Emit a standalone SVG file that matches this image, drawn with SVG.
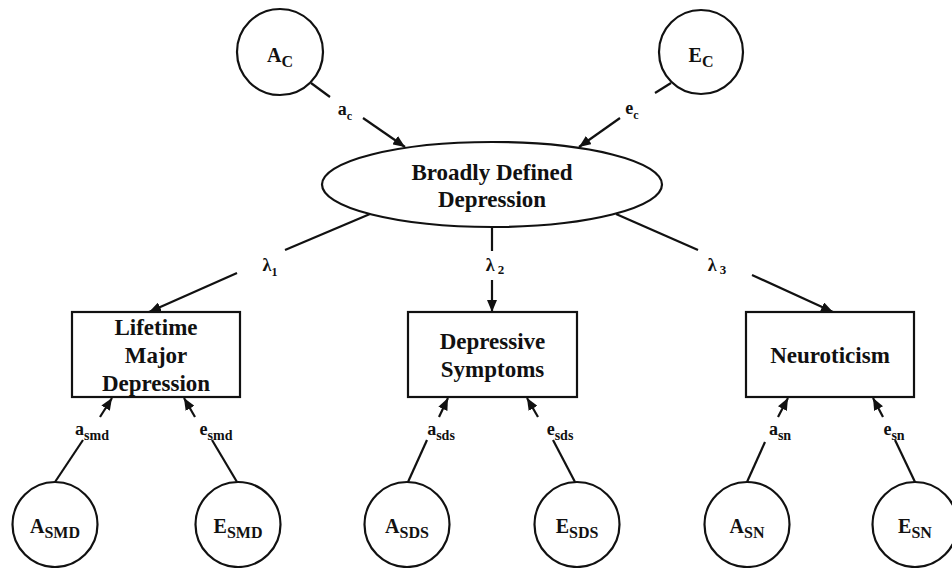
<svg xmlns="http://www.w3.org/2000/svg" width="952" height="568" viewBox="0 0 952 568">
<style>
  .shape { fill: #fff; stroke: #111; stroke-width: 2.2; }
  .line { stroke: #111; stroke-width: 2.2; fill: none; }
  .arr { stroke: #111; stroke-width: 2.2; fill: none; marker-end: url(#ah); }
  text { font-family: "Liberation Serif", "Times New Roman", serif; font-weight: bold; fill: #111; }
  .node { font-size: 23px; text-anchor: middle; }
  .lat { font-size: 20px; text-anchor: middle; }
  .lab { font-size: 18px; text-anchor: middle; }
</style>
<defs>
  <marker id="ah" markerWidth="12" markerHeight="10" refX="12" refY="5" orient="auto" markerUnits="userSpaceOnUse">
    <path d="M0,0 L12,5 L0,10 z" fill="#111"/>
  </marker>
</defs>
<g id="connectors">
  <line class="line" x1="311" y1="83" x2="330" y2="97"/>
  <line class="arr" x1="363" y1="118" x2="405" y2="147"/>
  <line class="line" x1="671" y1="83" x2="655" y2="93"/>
  <line class="arr" x1="620" y1="118" x2="579" y2="147"/>
  <line class="line" x1="370" y1="214" x2="285" y2="250"/>
  <line class="arr" x1="237" y1="273" x2="149" y2="312"/>
  <line class="line" x1="492" y1="227" x2="492" y2="251"/>
  <line class="arr" x1="492" y1="280" x2="492" y2="312"/>
  <line class="line" x1="616" y1="214" x2="698" y2="250"/>
  <line class="arr" x1="752" y1="275" x2="833" y2="312"/>
  <line class="line" x1="55" y1="482" x2="83" y2="440"/>
  <line class="arr" x1="100" y1="417" x2="112" y2="398"/>
  <line class="line" x1="237" y1="482" x2="212" y2="440"/>
  <line class="arr" x1="195" y1="417" x2="184" y2="398"/>
  <line class="line" x1="408" y1="482" x2="427" y2="440"/>
  <line class="arr" x1="439" y1="417" x2="448" y2="398"/>
  <line class="line" x1="575" y1="482" x2="553" y2="440"/>
  <line class="arr" x1="538" y1="417" x2="527" y2="398"/>
  <line class="line" x1="747" y1="482" x2="765" y2="442"/>
  <line class="arr" x1="778" y1="417" x2="788" y2="398"/>
  <line class="line" x1="915" y1="482" x2="895" y2="440"/>
  <line class="arr" x1="883" y1="417" x2="873" y2="398"/>
  <text class="lab" x="345" y="115">a<tspan font-size="12" dy="5">c</tspan></text>
  <text class="lab" x="632" y="114">e<tspan font-size="12" dy="5">c</tspan></text>
  <text class="lab" x="270" y="271">λ<tspan font-size="12" dy="5">1</tspan></text>
  <text class="lab" x="495" y="271">λ<tspan font-size="13" dy="3"> 2</tspan></text>
  <text class="lab" x="717" y="271">λ<tspan font-size="13" dy="3"> 3</tspan></text>
  <text class="lab" x="92" y="435">a<tspan font-size="14" dy="5">smd</tspan></text>
  <text class="lab" x="216" y="435">e<tspan font-size="14" dy="5">smd</tspan></text>
  <text class="lab" x="441" y="435">a<tspan font-size="14" dy="5">sds</tspan></text>
  <text class="lab" x="560" y="435">e<tspan font-size="14" dy="5">sds</tspan></text>
  <text class="lab" x="780" y="435">a<tspan font-size="14" dy="5">sn</tspan></text>
  <text class="lab" x="894" y="435">e<tspan font-size="14" dy="5">sn</tspan></text>
</g>
<g id="AC">
  <circle class="shape" cx="280" cy="52" r="43"/>
  <text class="lat" x="280" y="62">A<tspan font-size="16" dy="5">C</tspan></text>
</g>
<g id="EC">
  <circle class="shape" cx="701" cy="52" r="42"/>
  <text class="lat" x="701" y="62">E<tspan font-size="16" dy="5">C</tspan></text>
</g>
<g id="BDD">
  <ellipse class="shape" cx="492" cy="184.5" rx="170" ry="42.5"/>
  <text class="node" x="492" y="180">Broadly Defined</text>
  <text class="node" x="492" y="207">Depression</text>
</g>
<g id="LMD">
  <rect class="shape" x="72" y="312" width="168" height="85"/>
  <text class="node" x="156" y="335">Lifetime</text>
  <text class="node" x="156" y="363">Major</text>
  <text class="node" x="156" y="391">Depression</text>
</g>
<g id="DS">
  <rect class="shape" x="408" y="312" width="169" height="85"/>
  <text class="node" x="492.5" y="349">Depressive</text>
  <text class="node" x="492.5" y="377">Symptoms</text>
</g>
<g id="N">
  <rect class="shape" x="746" y="312" width="168" height="85"/>
  <text class="node" x="830" y="363">Neuroticism</text>
</g>
<g id="ASMD">
  <circle class="shape" cx="55" cy="524.5" r="42.5"/>
  <text class="lat" x="55" y="533">A<tspan font-size="16" dy="5">SMD</tspan></text>
</g>
<g id="ESMD">
  <circle class="shape" cx="238" cy="524.5" r="42.5"/>
  <text class="lat" x="238" y="533">E<tspan font-size="16" dy="5">SMD</tspan></text>
</g>
<g id="ASDS">
  <circle class="shape" cx="407" cy="524.5" r="42.5"/>
  <text class="lat" x="407" y="533">A<tspan font-size="16" dy="5">SDS</tspan></text>
</g>
<g id="ESDS">
  <circle class="shape" cx="577" cy="524.5" r="42.5"/>
  <text class="lat" x="577" y="533">E<tspan font-size="16" dy="5">SDS</tspan></text>
</g>
<g id="ASN">
  <circle class="shape" cx="747" cy="524.5" r="42.5"/>
  <text class="lat" x="747" y="533">A<tspan font-size="16" dy="5">SN</tspan></text>
</g>
<g id="ESN">
  <circle class="shape" cx="915" cy="524.5" r="42.5"/>
  <text class="lat" x="915" y="533">E<tspan font-size="16" dy="5">SN</tspan></text>
</g>
</svg>
